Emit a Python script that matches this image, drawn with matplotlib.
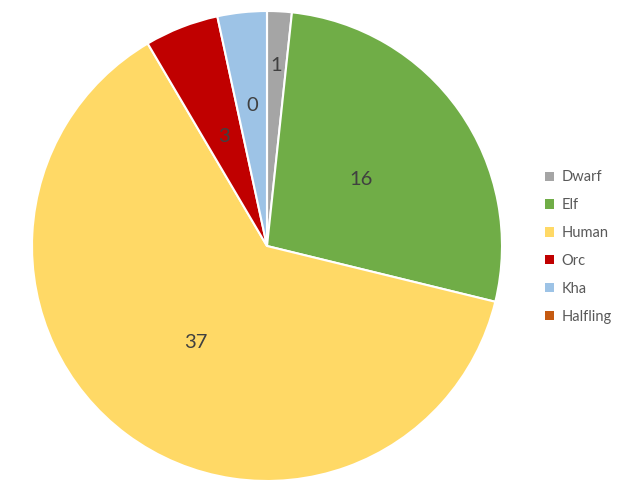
import numpy as np
import matplotlib.pyplot as plt

# race counts (slice sizes) and the labels shown on the slices
races = ['Dwarf', 'Elf', 'Human', 'Orc', 'Kha', 'Halfling']
counts = [1, 16, 37, 3, 2, 0]
shown = ['1', '16', '37', '3', '0', '']
colors = ['#A5A5A5', '#70AD47', '#FFD966', '#C00000', '#9DC3E6', '#C55A11']
label_r = [0.77, 0.49, 0.51, 0.50, 0.60, 0.6]

plt.rcParams['font.family'] = ['Lato', 'DejaVu Sans']

fig = plt.figure(figsize=(6.19, 4.92), dpi=100)
ax = fig.add_axes([32 / 619, 11 / 492, 470 / 619, 470 / 492])

wedges, _ = ax.pie(counts, colors=colors, startangle=90, counterclock=False,
                   radius=1.0, wedgeprops=dict(edgecolor='white', linewidth=1.5))
ax.set_xlim(-1, 1)
ax.set_ylim(-1, 1)
ax.set_aspect('equal')
ax.axis('off')

# data labels inside the slices
for w, txt, r in zip(wedges, shown, label_r):
    if not txt:
        continue
    mid = np.deg2rad((w.theta1 + w.theta2) / 2)
    ax.text(r * np.cos(mid), r * np.sin(mid), txt, ha='center', va='center',
            fontsize=14.5, color='#404040')

leg = fig.legend(wedges, races, loc='center left',
                 bbox_to_anchor=(532 / 619, 1 - 247 / 492), frameon=False,
                 handlelength=0.6, handleheight=0.6, handletextpad=0.5,
                 labelspacing=0.95, fontsize=10.5, labelcolor='#595959')
for h in leg.legend_handles:
    h.set_edgecolor('none')

fig.savefig('out.png', dpi=100)
